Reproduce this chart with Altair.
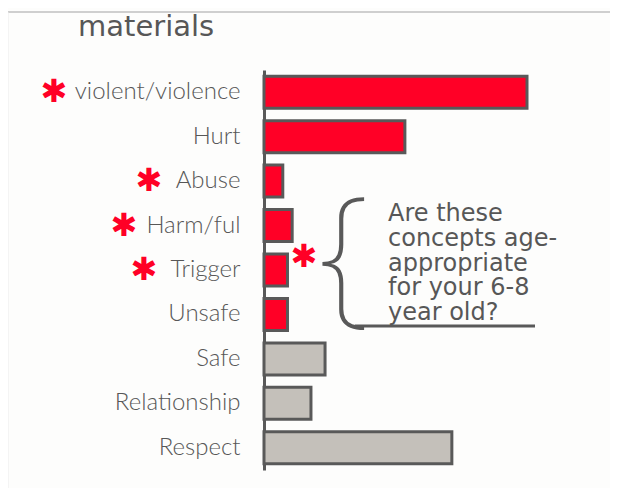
import altair as alt
import pandas as pd

# ---- data ----
categories = ["violent/violence", "Hurt", "Abuse", "Harm/ful", "Trigger",
              "Unsafe", "Safe", "Relationship", "Respect"]
values = [56, 30, 4, 6, 5, 5, 13, 10, 40]
groups = ["concern"] * 6 + ["positive"] * 3
starred = ["violent/violence", "Abuse", "Harm/ful", "Trigger"]
title_text = "materials"
note_lines = ["Are these", "concepts age-", "appropriate", "for your 6-8", "year old?"]

df = pd.DataFrame({"cat": categories, "val": values, "grp": groups})

GRAY = "#595959"
TXT = "#575757"
RED = "#ff0026"

yenc = alt.Y("cat:N", sort=categories,
             scale=alt.Scale(paddingInner=0.28, paddingOuter=0.14),
             axis=alt.Axis(title=None, ticks=False, domain=True,
                           domainColor=GRAY, domainWidth=3,
                           labelFont="Lato", labelFontSize=24, labelFontWeight=300,
                           labelColor=TXT, labelPadding=24))

bars = alt.Chart(df).mark_bar(stroke=GRAY, strokeWidth=3).encode(
    y=yenc,
    x=alt.X("val:Q", scale=alt.Scale(domain=[0, 56], nice=False), axis=None),
    color=alt.Color("grp:N", scale=alt.Scale(domain=["concern", "positive"],
                                             range=[RED, "#c4c0ba"]), legend=None),
)

layers = [bars]

# red asterisks beside flagged labels
star_x = {"violent/violence": -210, "Abuse": -115, "Harm/ful": -140, "Trigger": -120}
for c in starred:
    layers.append(
        alt.Chart(pd.DataFrame({"cat": [c], "s": ["✱"]})).mark_text(
            fontSize=32, color=RED, align="center", baseline="middle", font="DejaVu Sans"
        ).encode(y=alt.Y("cat:N", sort=categories), x=alt.value(star_x[c]), text="s:N")
    )

one = pd.DataFrame({"k": [0]})

# star next to brace
layers.append(alt.Chart(pd.DataFrame({"s": ["✱"]})).mark_text(
    fontSize=32, color=RED, align="center", baseline="middle", font="DejaVu Sans"
).encode(x=alt.value(40), y=alt.value(187), text="s:N"))

# brace
layers.append(alt.Chart(pd.DataFrame({"s": ["{"]})).mark_text(
    fontSize=152, color=GRAY, align="center", baseline="middle",
    font="Noto Sans", fontWeight=100
).encode(x=alt.value(80), y=alt.value(190), text="s:N"))

# underline
layers.append(alt.Chart(one).mark_rule(stroke=GRAY, strokeWidth=3).encode(
    x=alt.value(91), x2=alt.value(271), y=alt.value(256)))

# note text
layers.append(alt.Chart(pd.DataFrame({"t": ["\n".join(note_lines)]})).mark_text(
    font="DejaVu Sans", fontSize=24, color=TXT, align="left", baseline="alphabetic",
    lineBreak="\n", lineHeight=24.75
).encode(x=alt.value(124), y=alt.value(151), text="t:N"))

# title
layers.append(alt.Chart(pd.DataFrame({"t": [title_text]})).mark_text(
    font="DejaVu Sans", fontSize=29, color=TXT, align="left", baseline="alphabetic"
).encode(x=alt.value(-186), y=alt.value(-34), text="t:N"))

# slide border lines
layers.append(alt.Chart(one).mark_rule(stroke="#cfcfcf", strokeWidth=2).encode(
    x=alt.value(-256), x2=alt.value(360), y=alt.value(-58)))
layers.append(alt.Chart(one).mark_rule(stroke="#ececec", strokeWidth=1).encode(
    x=alt.value(-256), y=alt.value(-58), y2=alt.value(440)))

chart = alt.layer(*layers).properties(
    width=263, height=400,
    autosize=alt.AutoSizeParams(type="none"),
    padding={"left": 256, "top": 62, "right": 83, "bottom": 18},
    background="#fdfdfc",
).configure_view(stroke=None)

chart.save("out.html", embed_options={"renderer": "svg", "actions": False})
